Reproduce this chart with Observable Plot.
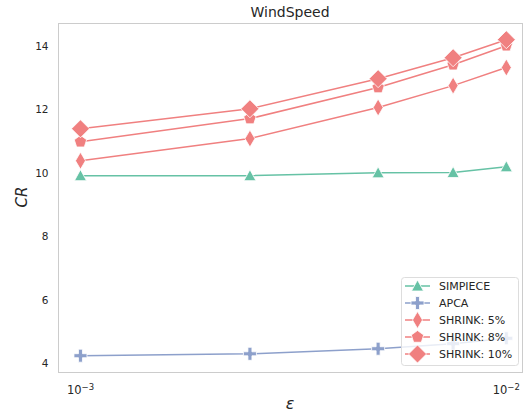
<!DOCTYPE html>
<html><head><meta charset="utf-8">
<script src="https://cdn.jsdelivr.net/npm/d3@7"></script>
<script src="https://cdn.jsdelivr.net/npm/@observablehq/plot@0.6"></script>
<style>body{margin:0;background:#fff}svg{display:block}</style>
</head><body><div id="chart"></div>
<script>
const eps = [0.001, 0.0025, 0.005, 0.0075, 0.01];
const seriesNames = ["SIMPIECE", "APCA", "SHRINK: 5%", "SHRINK: 8%", "SHRINK: 10%"];
const simpiece = [9.93, 9.93, 10.02, 10.03, 10.21];
const apca = [4.25, 4.31, 4.47, 4.63, 4.80];
const shrink5 = [10.40, 11.10, 12.08, 12.77, 13.34];
const shrink8 = [11.00, 11.73, 12.71, 13.43, 14.03];
const shrink10 = [11.41, 12.04, 12.99, 13.65, 14.22];
const yTicks = [4, 6, 8, 10, 12, 14];
const xTicks = [0.001, 0.01];
const xTickExp = ["\u22123", "\u22122"];
const colors = ["#66c2a5", "#8da0cb", "#f08080", "#f08080", "#f08080"];

const poly = (pts) => ({draw(ctx){ ctx.moveTo(pts[0][0], pts[0][1]); for (let i=1;i<pts.length;i++) ctx.lineTo(pts[i][0], pts[i][1]); ctx.closePath(); }});
const triSym = poly([[0,-6],[6,5],[-6,5]]);
const plusSym = poly([[-2,-6.5],[2,-6.5],[2,-2],[6.5,-2],[6.5,2],[2,2],[2,6.5],[-2,6.5],[-2,2],[-6.5,2],[-6.5,-2],[-2,-2]]);
const thinDia = poly([[0,-8.5],[5,0],[0,8.5],[-5,0]]);
const pent = poly(d3.range(5).map(i => { const a = -Math.PI/2 + i*2*Math.PI/5; return [6.5*Math.cos(a), 6.5*Math.sin(a)]; }));
const diaSym = poly([[0,-9],[9,0],[0,9],[-9,0]]);
const symbols = [triSym, plusSym, thinDia, pent, diaSym];
const values = [simpiece, apca, shrink5, shrink8, shrink10];

const marks = [];
values.forEach((vals, k) => {
  const data = eps.map((e, i) => ({eps: e, cr: vals[i]}));
  marks.push(Plot.line(data, {x: "eps", y: "cr", stroke: colors[k], strokeWidth: 1.5}));
  marks.push(Plot.dot(data, {x: "eps", y: "cr", symbol: symbols[k], fill: colors[k], stroke: "white", strokeWidth: 0.8, r: 5}));
});
marks.push(Plot.frame({stroke: "#cccccc", strokeWidth: 1}));

const chart = Plot.plot({
  width: 526, height: 413,
  marginLeft: 58, marginRight: 4, marginTop: 23, marginBottom: 41,
  style: {fontFamily: "DejaVu Sans", fontSize: "10.5px", color: "#262626", background: "white"},
  x: {type: "log", domain: [Math.pow(10, -3.0516), Math.pow(10, -1.962)], ticks: xTicks,
      tickFormat: d => "10", tickSize: 0, tickPadding: 13, label: null},
  y: {domain: [3.72, 14.73], ticks: yTicks, tickSize: 0, tickPadding: 10, label: null},
  marks
});
const svg = d3.select(chart);
// superscript exponents on x tick labels
svg.selectAll('g[aria-label="x-axis tick label"] text').each(function(d, i) {
  const t = d3.select(this);
  t.text(null).style("font-size", "11.5px");
  t.append("tspan").text("10");
  t.append("tspan").attr("dy", "-0.4em").style("font-size", "8.5px").text(xTickExp[i]);
});
svg.append("text").attr("x", 290).attr("y", 17).attr("text-anchor", "middle")
  .attr("font-family", "DejaVu Sans").attr("font-size", 14).attr("fill", "#262626").text("WindSpeed");
svg.append("text").attr("transform", "translate(27,197) rotate(-90)").attr("text-anchor", "middle")
  .attr("font-family", "DejaVu Sans").attr("font-style", "italic").attr("font-size", 15).attr("fill", "#262626").text("CR");
svg.append("text").attr("x", 290).attr("y", 409).attr("text-anchor", "middle")
  .attr("font-family", "DejaVu Sans").attr("font-style", "italic").attr("font-size", 16).attr("fill", "#262626").text("\u03B5");

const lg = svg.append("g");
lg.append("rect").attr("x", 401.5).attr("y", 277.5).attr("width", 117).attr("height", 88).attr("rx", 3)
  .attr("fill", "rgba(255,255,255,0.8)").attr("stroke", "#dddddd");
seriesNames.forEach((name, k) => {
  const y = 286 + k * 17;
  lg.append("line").attr("x1", 405).attr("x2", 430).attr("y1", y).attr("y2", y).attr("stroke", colors[k]).attr("stroke-width", 1.5);
  const p = d3.path(); symbols[k].draw(p);
  lg.append("path").attr("d", p.toString()).attr("transform", `translate(417.5,${y})`).attr("fill", colors[k]).attr("stroke", "white").attr("stroke-width", 0.8);
  lg.append("text").attr("x", 439).attr("y", y).attr("dy", "0.35em").attr("text-anchor", "start").attr("font-family", "DejaVu Sans").attr("font-size", 11).attr("fill", "#262626").text(name);
});
document.getElementById("chart").appendChild(chart);
</script>
</body></html>
